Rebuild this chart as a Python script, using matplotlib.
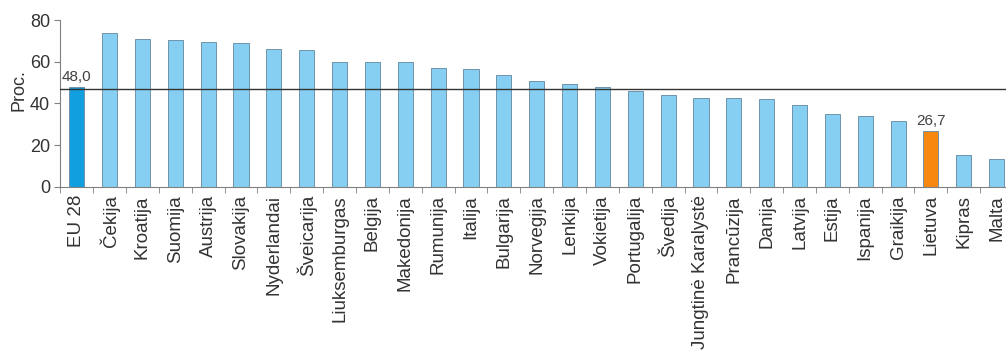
import matplotlib
matplotlib.use("Agg")
import matplotlib.pyplot as plt
import numpy as np

plt.rcParams['font.family'] = ['Liberation Sans', 'DejaVu Sans']

countries = ['EU 28', 'Čekija', 'Kroatija', 'Suomija', 'Austrija', 'Slovakija',
             'Nyderlandai', 'Šveicarija', 'Liuksemburgas', 'Belgija', 'Makedonija',
             'Rumunija', 'Italija', 'Bulgarija', 'Norvegija', 'Lenkija', 'Vokietija',
             'Portugalija', 'Švedija', 'Jungtinė Karalystė', 'Prancūzija', 'Danija',
             'Latvija', 'Estija', 'Ispanija', 'Graikija', 'Lietuva', 'Kipras', 'Malta']
values = [48.0, 73.6, 70.9, 70.3, 69.5, 68.8, 66.3, 65.6, 59.9, 59.9, 59.9,
          57.0, 56.3, 53.6, 50.6, 49.1, 47.7, 46.1, 44.0, 42.6, 42.6, 41.9,
          39.2, 34.7, 34.1, 31.5, 26.7, 15.2, 13.1]
labelled = {'EU 28': '48,0', 'Lietuva': '26,7'}
ref_line = 46.7

light = '#86cff2'
colors = []
for c in countries:
    if c == 'EU 28':
        colors.append('#119fe0')
    elif c == 'Lietuva':
        colors.append('#f7870f')
    else:
        colors.append(light)

fig = plt.figure(figsize=(10.06, 3.51), dpi=100)
ax = fig.add_axes([0.06, 0.468, 0.947, 0.475])

x = np.arange(len(countries))
ax.bar(x, values, width=0.46, color=colors, edgecolor='#6e93ab', linewidth=0.7, zorder=2)
ax.axhline(ref_line, color='#333333', linewidth=1.0, zorder=3)

for i, c in enumerate(countries):
    if c in labelled:
        ax.text(i, values[i] + 1.5, labelled[c], ha='center', va='bottom',
                fontsize=11, color='#404040')

ax.set_xlim(-0.5, len(countries) - 0.5)
ax.set_ylim(0, 80)
ax.set_yticks([0, 20, 40, 60, 80])
ax.set_xticks(x)
ax.set_xticklabels(countries, rotation=90, fontsize=13.5, color='#333333')
ax.set_xticks(np.arange(len(countries) + 1) - 0.5, minor=True)
ax.tick_params(axis='x', which='major', length=0, pad=6)
ax.tick_params(axis='x', which='minor', length=4, color='#808080')
ax.tick_params(axis='y', labelsize=13, labelcolor='#333333', length=4, color='#808080')
ax.set_ylabel('Proc.', fontsize=13, color='#333333', labelpad=2)
ax.yaxis.set_label_coords(-0.035, 0.58)

for s in ['top', 'right']:
    ax.spines[s].set_visible(False)
for s in ['left', 'bottom']:
    ax.spines[s].set_color('#808080')

fig.savefig('out.png', dpi=100)
